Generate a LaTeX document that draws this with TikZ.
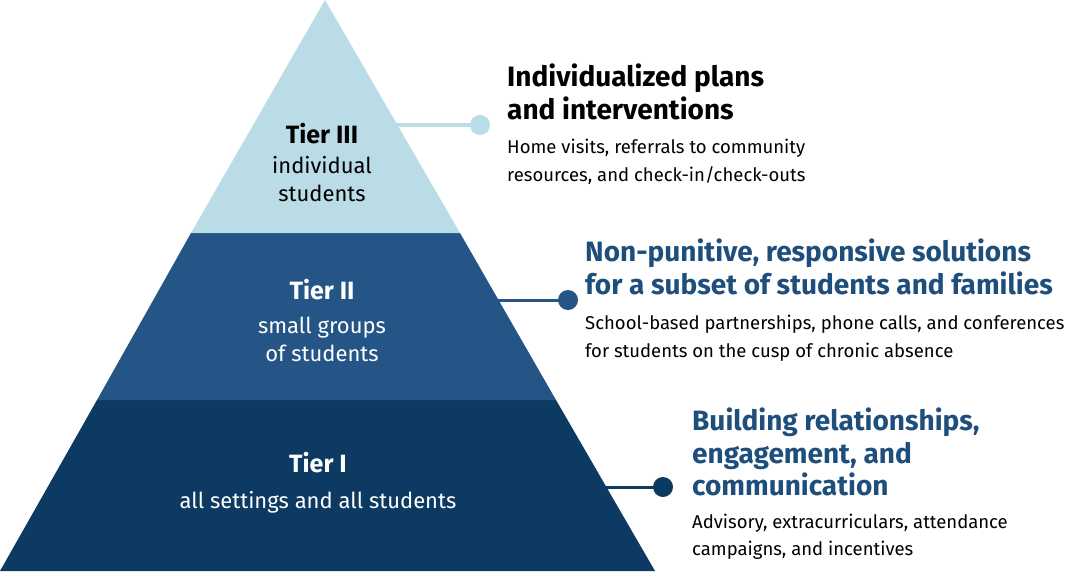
\documentclass[tikz,border=0pt]{standalone}
\usepackage{fontspec}
\setmainfont{Fira Sans}
\usetikzlibrary{positioning}
\definecolor{tierlight}{HTML}{BADCE6}
\definecolor{tiermid}{HTML}{245586}
\definecolor{tierdark}{HTML}{0C3A62}
\definecolor{headblue}{HTML}{1E4F7C}
\begin{document}
\begin{tikzpicture}[x=1pt,y=-1pt]
  \tikzstyle{tiertext}=[text=white,align=center,font=\fontsize{22}{28}\selectfont]
  \tikzstyle{headtext}=[anchor=north west,align=left,inner sep=0pt,font=\fontsize{28}{32.5}\selectfont\bfseries]
  \tikzstyle{bodytext}=[anchor=north west,align=left,inner sep=0pt,font=\fontsize{18.5}{27.5}\selectfont]
  \useasboundingbox (0,0) rectangle (1078,571);
  % pyramid tiers
  \fill [tierdark] (97,400) -- (556,400) -- (655,571) -- (0,571) -- cycle;
  \fill [tiermid] (191,233) -- (460,233) -- (556,400) -- (97,400) -- cycle;
  \fill [tierlight] (325,0) -- (460,233) -- (191,233) -- cycle;
  % tier labels
  \node [tiertext,text=black] (t3) at (322,162) {{\fontsize{25}{28}\selectfont\bfseries Tier III}\\[2pt]individual\\students};
  \node [tiertext] (t2) at (322,320) {{\fontsize{25}{28}\selectfont\bfseries Tier II}\\[6pt]small groups\\of students};
  \node [tiertext] (t1) at (318,483) {{\fontsize{25}{28}\selectfont\bfseries Tier I}\\[8pt]all settings and all students};
  % connectors
  \coordinate (c3) at (385,125);
  \coordinate (c2) at (488,300);
  \coordinate (c1) at (588,487);
  \fill [tierlight] (480,125) circle (10) node (d3) {};
  \fill [tiermid] (568,300) circle (10) node (d2) {};
  \fill [tierdark] (663,487) circle (10) node (d1) {};
  \draw [tierlight,line width=4] (c3) -- (d3.center);
  \draw [tiermid,line width=3] (c2) -- (d2.center);
  \draw [tierdark,line width=3] (c1) -- (d1.center);
  % descriptions
  \node [headtext] (h3) at (507,64) {Individualized plans\\and interventions};
  \node [bodytext,below=19pt of h3.south west,anchor=north west] (b3) {Home visits, referrals to community\\resources, and check-in/check-outs};
  \node [headtext,text=headblue] (h2) at (585,239) {Non-punitive, responsive solutions\\for a subset of students and families};
  \node [bodytext,below=20pt of h2.south west,anchor=north west] (b2) {School-based partnerships, phone calls, and conferences\\for students on the cusp of chronic absence};
  \node [headtext,text=headblue] (h1) at (692,408) {Building relationships,\\engagement, and\\communication};
  \node [bodytext,below=17pt of h1.south west,anchor=north west] (b1) {Advisory, extracurriculars, attendance\\campaigns, and incentives};
\end{tikzpicture}
\end{document}
